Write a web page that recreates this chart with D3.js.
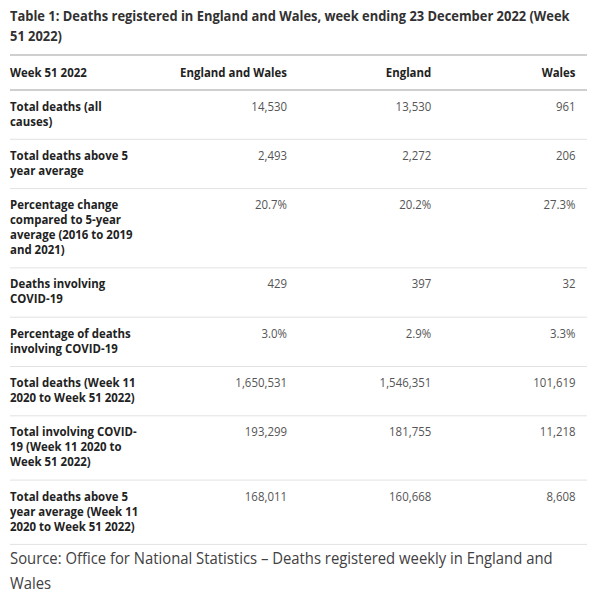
<!DOCTYPE html>
<html>
<head>
<meta charset="utf-8">
<script src="https://cdn.jsdelivr.net/npm/d3@7"></script>
<style>
  body { margin: 0; background: #fff; }
  svg { display: block; font-family: "Open Sans", sans-serif; }
</style>
</head>
<body>
<div id="table"></div>
<script>
const titleLines = ["Table 1: Deaths registered in England and Wales, week ending 23 December 2022 (Week", "51 2022)"];
const columns = ["Week 51 2022", "England and Wales", "England", "Wales"];
// row labels, already broken the way the source wraps them
const rowLabels = [
  ["Total deaths (all", "causes)"],
  ["Total deaths above 5", "year average"],
  ["Percentage change", "compared to 5-year", "average (2016 to 2019", "and 2021)"],
  ["Deaths involving", "COVID-19"],
  ["Percentage of deaths", "involving COVID-19"],
  ["Total deaths (Week 11", "2020 to Week 51 2022)"],
  ["Total involving COVID-", "19 (Week 11 2020 to", "Week 51 2022)"],
  ["Total deaths above 5", "year average (Week 11", "2020 to Week 51 2022)"]
];
const englandWales = ["14,530", "2,493", "20.7%", "429", "3.0%", "1,650,531", "193,299", "168,011"];
const england = ["13,530", "2,272", "20.2%", "397", "2.9%", "1,546,351", "181,755", "160,668"];
const wales = ["961", "206", "27.3%", "32", "3.3%", "101,619", "11,218", "8,608"];
const sourceLines = ["Source: Office for National Statistics \u2013 Deaths registered weekly in England and", "Wales"];

const W = 600, H = 600;
const left = 10, right = 587;
const lineH = 15, rowPad = 19.3;

const svg = d3.select("#table").append("svg")
  .attr("width", W).attr("height", H);

// the reference type is a bit narrower than the local Open Sans:
// each text sits in its own group, scaled horizontally around its anchor
function placeText(parent, data, opts) {
  const g = parent.selectAll(null).data(data).join("g")
    .attr("class", "t")
    .attr("transform", (d, i) => `translate(${opts.x(d, i)},${opts.y(d, i)})`);
  g.append("text")
    .attr("text-anchor", opts.anchor || "start")
    .attr("font-size", opts.size)
    .attr("font-weight", opts.weight || 400)
    .attr("fill", opts.fill)
    .text(d => d);
  return g;
}
function squeeze(groups, k) {
  groups.select("text").attr("transform", `scale(${k},1)`);
}
const widthOf = g => g.select("text").node().getComputedTextLength();

// title
const title = placeText(svg.append("g"), titleLines, {
  x: () => left, y: (d, i) => 21 + i * 20, size: 15, weight: 700, fill: "#323132"
});
squeeze(title, 560 / widthOf(title.filter((d, i) => i === 0)));

const x = d3.scaleBand().domain(columns).range([left, right]);
const cellRight = c => x(c) + x.bandwidth() - 11.5;

// row tops from line counts
const rowTops = [];
let acc = 90;
rowLabels.forEach(l => { rowTops.push(acc); acc += rowPad + lineH * l.length; });
const tableBottom = acc;

const values = [englandWales, england, wales];

// rules
svg.append("line").attr("x1", left).attr("x2", right).attr("y1", 55).attr("y2", 55)
  .attr("stroke", "#cfcfcf").attr("stroke-width", 2);
svg.append("line").attr("x1", left).attr("x2", right).attr("y1", 90).attr("y2", 90)
  .attr("stroke", "#cfcfcf").attr("stroke-width", 2);
svg.append("g").selectAll("line").data(rowTops.slice(1).concat([tableBottom])).join("line")
  .attr("x1", left).attr("x2", right)
  .attr("y1", d => d).attr("y2", d => d)
  .attr("stroke", "#e2e2e2").attr("stroke-width", 1);

// header
const headL = placeText(svg.append("g"), columns.slice(0, 1), {
  x: () => left, y: () => 77, size: 12.5, weight: 700, fill: "#222"
});
const headR = placeText(svg.append("g"), columns.slice(1), {
  x: d => cellRight(d), y: () => 77, anchor: "end", size: 12.5, weight: 700, fill: "#222"
});
// "England and Wales" spans 107px in the reference
const k = 107 / widthOf(headR.filter((d, i) => i === 0));
squeeze(headL, k);
squeeze(headR, k);

// body
const rows = svg.append("g").selectAll("g").data(rowLabels).join("g")
  .attr("transform", (d, i) => `translate(0,${rowTops[i] + 20.5})`);

rows.each(function(d, r) {
  const row = d3.select(this);
  const labels = placeText(row, d, {
    x: () => left, y: (l, i) => i * lineH, size: 12.5, weight: 700, fill: "#222"
  });
  const vals = placeText(row, values.map(v => v[r]), {
    x: (v, i) => cellRight(columns[i + 1]), y: () => 0, anchor: "end", size: 12.5, fill: "#555"
  });
  squeeze(labels, k);
  squeeze(vals, k);
});

// source note
const source = placeText(svg.append("g"), sourceLines, {
  x: () => left, y: (d, i) => tableBottom + 19.5 + i * 25.5, size: 16, fill: "#414042"
});
squeeze(source, 543 / widthOf(source.filter((d, i) => i === 0)));
</script>
</body>
</html>
